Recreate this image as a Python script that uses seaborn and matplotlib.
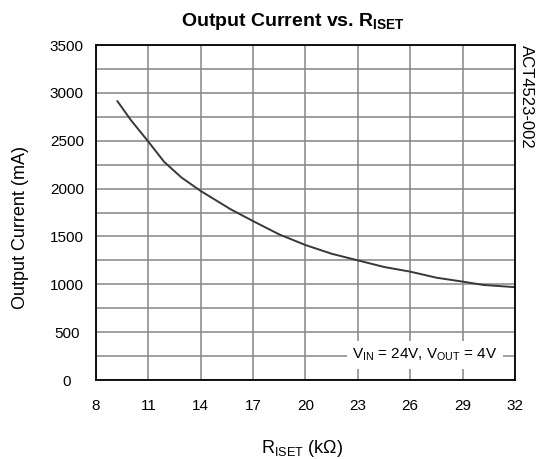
import numpy as np
import pandas as pd
import seaborn as sns
import matplotlib
matplotlib.use("Agg")
from matplotlib import pyplot as plt
from matplotlib.ticker import MultipleLocator

# curve
riset_kohm = [9.22, 10.0, 11.0, 11.9, 12.9, 14.0, 15.7, 17.0, 18.5,
              20.0, 21.5, 23.0, 24.5, 26.0, 27.5, 29.0, 30.2, 32.0]
current_ma = [2915, 2715, 2490, 2280, 2115, 1975, 1785, 1660, 1521,
              1410, 1319, 1250, 1181, 1132, 1069, 1028, 993, 970]

x_ticks = [8, 11, 14, 17, 20, 23, 26, 29, 32]
y_ticks = [0, 500, 1000, 1500, 2000, 2500, 3000, 3500]

sns.set_style("white")
plt.rcParams['font.family'] = ['Liberation Sans', 'DejaVu Sans']
plt.rcParams['mathtext.fontset'] = 'custom'
plt.rcParams['mathtext.rm'] = 'Liberation Sans'
plt.rcParams['mathtext.it'] = 'Liberation Sans:italic'
plt.rcParams['mathtext.bf'] = 'Liberation Sans:bold'
plt.rcParams['text.color'] = 'black'
plt.rcParams['axes.labelcolor'] = 'black'

df = pd.DataFrame({'R': riset_kohm, 'I': current_ma})

fig = plt.figure(figsize=(5.36, 4.59), dpi=100)
ax = fig.add_axes([0.1791, 0.1721, 0.7817, 0.7298])

sns.lineplot(data=df, x='R', y='I', ax=ax, color='#383838', linewidth=1.4)

ax.set_xlim(8, 32)
ax.set_ylim(0, 3500)
ax.set_xticks(x_ticks)
ax.set_yticks(y_ticks)
ax.yaxis.set_minor_locator(MultipleLocator(250))
ax.grid(True, which='both', color='#858585', linewidth=1.1)
ax.set_axisbelow(True)
ax.tick_params(axis='both', which='both', length=0, labelsize=11,
               colors='black', labelcolor='black')
ax.tick_params(axis='y', pad=21)
ax.tick_params(axis='x', pad=14)
for lab in ax.get_yticklabels():
    lab.set_horizontalalignment('center')

for s in ax.spines.values():
    s.set_visible(True)
    s.set_color('black')
    s.set_linewidth(1.3)

ax.set_xlabel(r'R$_{\mathregular{ISET}}$ (kΩ)', fontsize=13)
ax.set_ylabel('Output Current (mA)', fontsize=13)
ax.xaxis.set_label_coords(0.492, -0.205)
ax.xaxis.label.set_va('center')
ax.yaxis.set_label_coords(-0.179, 0.454)
ax.yaxis.label.set_va('center')

fig.text(293 / 536, 1 - 21 / 459, r'Output Current vs. R$_{\mathbf{ISET}}$',
         ha='center', va='center', fontsize=14, fontweight='bold', color='black')

fig.text(526 / 536, 1 - 45 / 459, 'ACT4523-002', rotation=-90,
         ha='center', va='top', fontsize=12, color='black')

ax.text(0.785, 0.075, r'V$_{\mathregular{IN}}$ = 24V, V$_{\mathregular{OUT}}$ = 4V',
        transform=ax.transAxes, ha='center', va='center', fontsize=11,
        color='black', bbox=dict(facecolor='white', edgecolor='none', pad=4))

fig.savefig('out.png', dpi=100)
